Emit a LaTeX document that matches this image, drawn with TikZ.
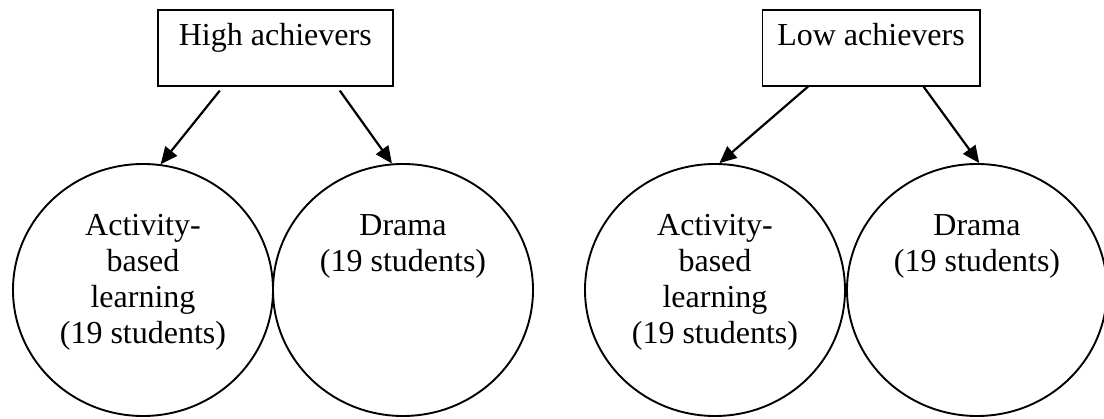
\documentclass[tikz,border=0pt]{standalone}
\usepackage{fontspec}
\setmainfont{Liberation Serif}
\usetikzlibrary{shapes.geometric,arrows.meta,calc}
\begin{document}
\begin{tikzpicture}[x=1pt,y=-1pt,
  grpbox/.style={draw,line width=1.6pt,rectangle,inner sep=0pt,text height=36pt,text depth=40pt,font=\fontsize{32}{36}\selectfont},
  oval/.style={draw,line width=1.9pt,ellipse,inner sep=0pt,minimum width=260pt,minimum height=252pt},
  lbl/.style={align=center,inner sep=0pt,anchor=north,font=\fontsize{32}{36}\selectfont},
  arr/.style={line width=2.2pt,-{Triangle[length=17pt,width=15pt]}}]
\fill[white] (0,0) rectangle (1104,419);
\useasboundingbox (0,0) rectangle (1104,419);

\node[grpbox,minimum width=235pt,anchor=north west] (hb) at (157,9) {High achievers};
\node[grpbox,minimum width=217.5pt,anchor=north west] (lb) at (761.5,9) {Low achievers};

\node[oval] (c1) at (143,290) {};
\node[oval] (c2) at (403,290) {};
\node[oval] (c3) at (715,290) {};
\node[oval] (c4) at (977,290) {};

\node[lbl] (t1) at (143,211) {\rule{0pt}{24pt}Activity-\\based\\learning\\(19 students)};
\node[lbl] (t2) at (403,211) {\rule{0pt}{24pt}Drama\\(19 students)};
\node[lbl] (t3) at (715,211) {\rule{0pt}{24pt}Activity-\\based\\learning\\(19 students)};
\node[lbl] (t4) at (977,211) {\rule{0pt}{24pt}Drama\\(19 students)};

\draw[arr] ($(hb.south)+(-55.5,4)$) -- (c1.82);
\draw[arr] ($(hb.south)+(64.5,4)$) -- (c2.95);
\draw[arr] ($(lb.south)+(-63,0)$) -- (c3.88);
\draw[arr] ($(lb.south)+(52.5,0)$) -- (c4.89);
\end{tikzpicture}
\end{document}
